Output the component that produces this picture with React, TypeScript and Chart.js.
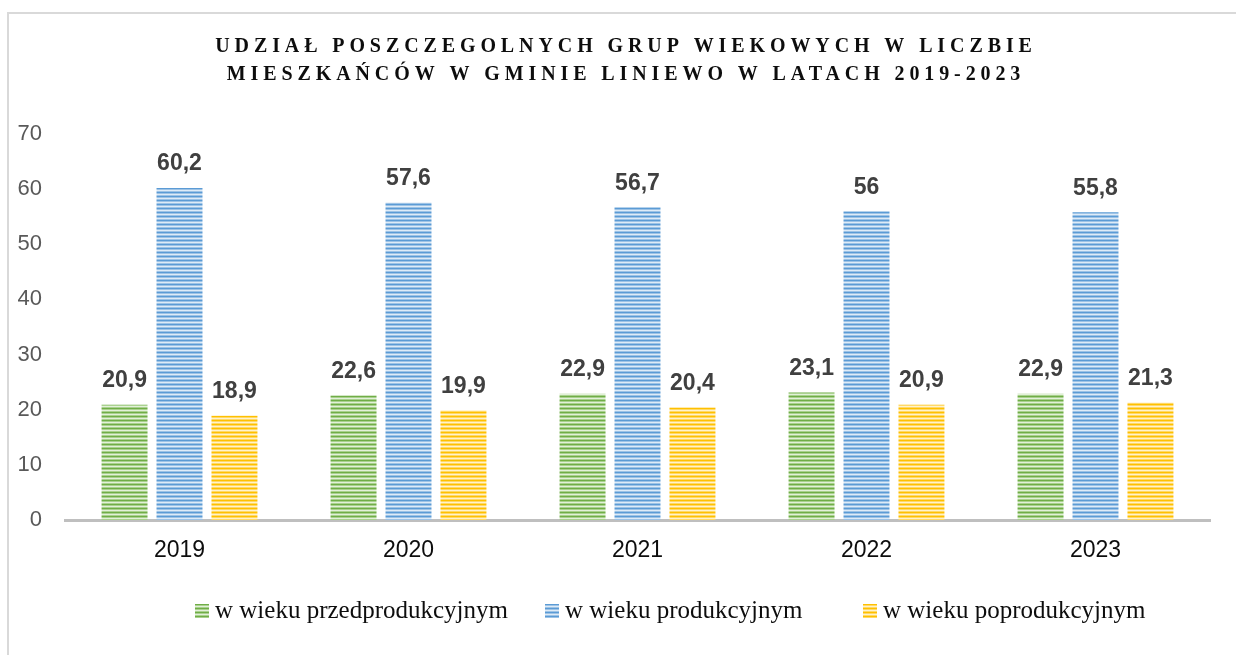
import React, { useEffect, useRef } from "react";
import { Chart, registerables } from "chart.js";

Chart.register(...registerables);

const years = ["2019", "2020", "2021", "2022", "2023"];
const przedprodukcyjny = [20.9, 22.6, 22.9, 23.1, 22.9];
const produkcyjny = [60.2, 57.6, 56.7, 56, 55.8];
const poprodukcyjny = [18.9, 19.9, 20.4, 20.9, 21.3];
const seriesNames = ["w wieku przedprodukcyjnym", "w wieku produkcyjnym", "w wieku poprodukcyjnym"];
const yTicks = [0, 10, 20, 30, 40, 50, 60, 70];
const titleLines = [
  "UDZIAŁ POSZCZEGOLNYCH GRUP WIEKOWYCH W LICZBIE",
  "MIESZKAŃCÓW W GMINIE LINIEWO W LATACH 2019-2023",
];

function makePattern(dark: string, mid: string, light: string): CanvasPattern | string {
  const c = document.createElement("canvas");
  c.width = 4;
  c.height = 4;
  const g = c.getContext("2d");
  if (!g) return dark;
  const rows = [dark, mid, light, mid];
  rows.forEach((col, i) => {
    g.fillStyle = col;
    g.fillRect(0, i, 4, 1);
  });
  return g.createPattern(c, "repeat") || dark;
}

const fmt = (v: number) => String(v).replace(".", ",");

const legendX = [195, 545, 863];

const decorPlugin = {
  id: "decor",
  beforeDraw(chart: any) {
    const ctx = chart.ctx;
    ctx.save();
    ctx.fillStyle = "#ffffff";
    ctx.fillRect(0, 0, chart.width, chart.height);
    ctx.strokeStyle = "#d9d9d9";
    ctx.lineWidth = 2;
    ctx.beginPath();
    ctx.moveTo(8, chart.height);
    ctx.lineTo(8, 13);
    ctx.lineTo(chart.width, 13);
    ctx.stroke();
    ctx.restore();
  },
  afterDraw(chart: any) {
    const ctx = chart.ctx;
    ctx.save();
    // title
    ctx.fillStyle = "#0d0d0d";
    ctx.font = "bold 20px 'Liberation Serif'";
    (ctx as any).letterSpacing = "4.9px";
    ctx.textAlign = "center";
    ctx.textBaseline = "middle";
    ctx.fillText(titleLines[0], 626, 47);
    ctx.fillText(titleLines[1], 626, 75);
    (ctx as any).letterSpacing = "0px";
    // data labels
    ctx.font = "bold 23px 'Liberation Sans'";
    ctx.fillStyle = "#404040";
    chart.data.datasets.forEach((ds: any, di: number) => {
      const meta = chart.getDatasetMeta(di);
      meta.data.forEach((bar: any, i: number) => {
        ctx.fillText(fmt(ds.data[i]), bar.x, bar.y - 24);
      });
    });
    // legend
    ctx.textAlign = "left";
    ctx.font = "25px 'Liberation Serif'";
    chart.data.datasets.forEach((ds: any, di: number) => {
      const x = legendX[di];
      ctx.fillStyle = ds.backgroundColor;
      ctx.fillRect(x, 604, 14, 14);
      ctx.fillStyle = "#0d0d0d";
      ctx.fillText(ds.label, x + 20, 611);
    });
    ctx.restore();
  },
};

export default function App() {
  const ref = useRef<HTMLCanvasElement | null>(null);
  useEffect(() => {
    if (!ref.current) return;
    const green = makePattern("#70ad47", "#a9d18e", "#e2f0d9");
    const blue = makePattern("#5b9bd5", "#9dc3e6", "#deebf7");
    const yellow = makePattern("#ffc000", "#ffd966", "#fff2cc");
    const chart = new Chart(ref.current, {
      type: "bar",
      data: {
        labels: years,
        datasets: [
          { label: seriesNames[0], data: przedprodukcyjny, backgroundColor: green as any, borderWidth: 0 },
          { label: seriesNames[1], data: produkcyjny, backgroundColor: blue as any, borderWidth: 0 },
          { label: seriesNames[2], data: poprodukcyjny, backgroundColor: yellow as any, borderWidth: 0 },
        ],
      },
      options: {
        responsive: false,
        animation: false,
        layout: { padding: { top: 134, left: 0, right: 26, bottom: 80 } },
        datasets: { bar: { categoryPercentage: 0.72, barPercentage: 0.836 } },
        plugins: {
          title: { display: false },
          tooltip: { enabled: false },
          legend: { display: false },
        },
        scales: {
          x: {
            grid: { display: false },
            border: { display: true, color: "#bfbfbf", width: 3 },
            ticks: { color: "#0d0d0d", font: { family: "'Liberation Sans'", size: 23 }, padding: 9 },
            afterFit: (axis: any) => {
              axis.height = 55;
            },
          },
          y: {
            min: 0,
            max: 70,
            afterBuildTicks: (axis: any) => {
              axis.ticks = yTicks.map((v) => ({ value: v }));
            },
            afterFit: (axis: any) => {
              axis.width = 65;
            },
            grid: { display: false },
            border: { display: false },
            ticks: { color: "#595959", font: { family: "'Liberation Sans'", size: 22 }, padding: 15 },
          },
        },
      },
      plugins: [decorPlugin],
    });
    return () => chart.destroy();
  }, []);
  return (
    <div style={{ position: "fixed", left: 0, top: 0, width: 1236, height: 655, background: "#fff" }}>
      <canvas ref={ref} width={1236} height={655} style={{ display: "block" }} />
    </div>
  );
}
